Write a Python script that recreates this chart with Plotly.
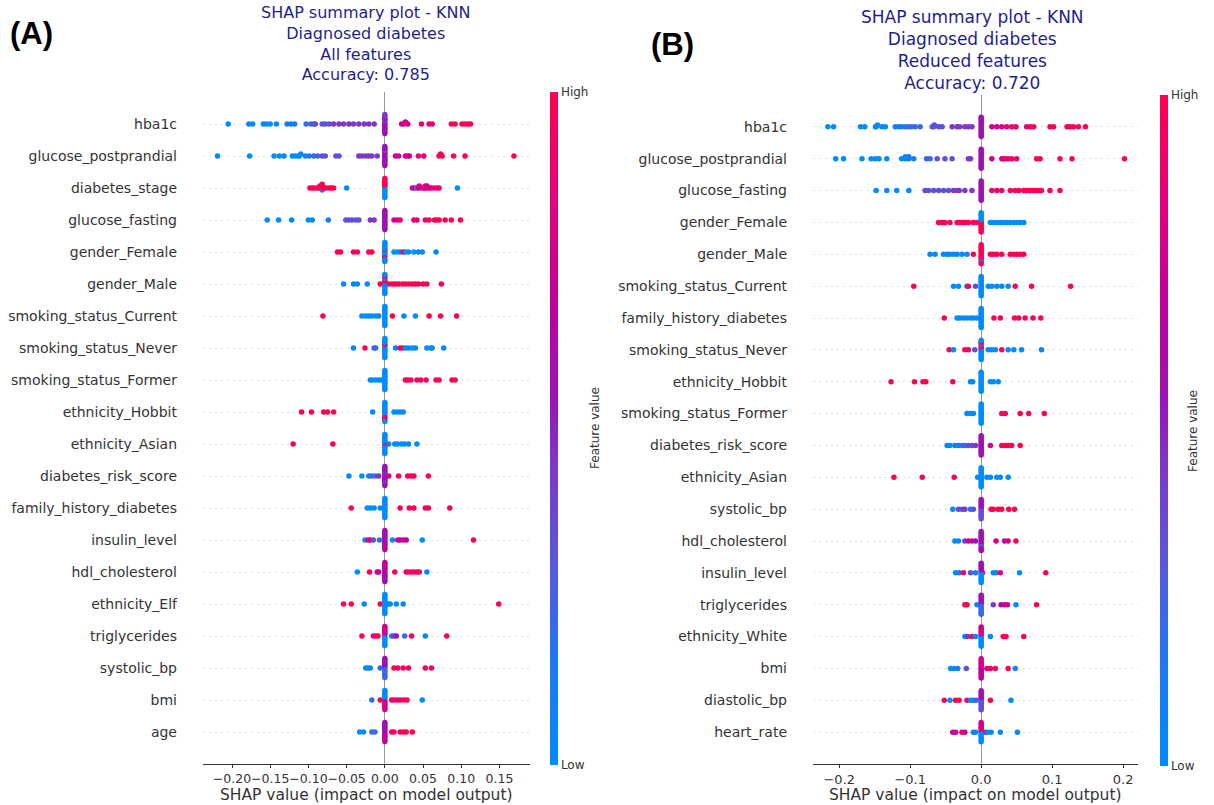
import numpy as np
import plotly.graph_objects as go

# ---------------- Panel A: all features ----------------
features_a = [
    "hba1c", "glucose_postprandial", "diabetes_stage", "glucose_fasting",
    "gender_Female", "gender_Male", "smoking_status_Current", "smoking_status_Never",
    "smoking_status_Former", "ethnicity_Hobbit", "ethnicity_Asian", "diabetes_risk_score",
    "family_history_diabetes", "insulin_level", "hdl_cholesterol", "ethnicity_Elf",
    "triglycerides", "systolic_bp", "bmi", "age",
]

# SHAP values of the non-zero samples, one list per feature
shap_a = [
    [-0.205, -0.178, -0.173, -0.159, -0.155, -0.150, -0.142, -0.128, -0.123, -0.118,
     -0.103, -0.097, -0.093, -0.091, -0.082, -0.078, -0.073, -0.067, -0.060, -0.054,
     -0.047, -0.041, -0.034, -0.027, -0.021, -0.014,
     0.022, 0.025, 0.027, 0.030, 0.048, 0.058, 0.062, 0.087, 0.092, 0.101, 0.105, 0.109, 0.112],
    [-0.219, -0.177, -0.145, -0.138, -0.132, -0.121, -0.117, -0.113, -0.112, -0.110,
     -0.104, -0.099, -0.093, -0.088, -0.082, -0.078, -0.064, -0.060, -0.034, -0.030,
     -0.025, -0.021, -0.017, -0.010,
     0.014, 0.018, 0.027, 0.030, 0.032, 0.044, 0.051, 0.071, 0.073, 0.075, 0.090, 0.105, 0.169],
    [-0.098, -0.095, -0.092, -0.088, -0.086, -0.085, -0.085, -0.083, -0.083, -0.082,
     -0.082, -0.081, -0.079, -0.077, -0.073, -0.070, -0.067, -0.050,
     0.036, 0.039, 0.042, 0.044, 0.045, 0.048, 0.051, 0.053, 0.053, 0.055, 0.055, 0.058,
     0.060, 0.064, 0.068, 0.071, 0.095],
    [-0.154, -0.139, -0.122, -0.100, -0.095, -0.074, -0.051, -0.047, -0.043, -0.038,
     -0.034, -0.019, -0.014,
     0.012, 0.016, 0.020, 0.038, 0.042, 0.053, 0.058, 0.065, 0.068, 0.071, 0.079, 0.087, 0.099],
    [-0.062, -0.058, -0.041, -0.036, -0.021, -0.017,
     0.012, 0.016, 0.020, 0.024, 0.027, 0.031, 0.038, 0.044, 0.049, 0.067],
    [-0.054, -0.041, -0.036, -0.023, -0.006,
     0.005, 0.010, 0.014, 0.018, 0.023, 0.027, 0.031, 0.036, 0.040, 0.044, 0.050, 0.055, 0.074],
    [-0.081, -0.030, -0.025, -0.021, -0.017, -0.012, -0.008,
     0.010, 0.025, 0.040, 0.058, 0.073, 0.094],
    [-0.041, -0.026, -0.014, -0.012,
     0.014, 0.020, 0.023, 0.027, 0.031, 0.036, 0.040, 0.055, 0.060, 0.062, 0.077],
    [-0.019, -0.016, -0.012, -0.008, -0.004,
     0.027, 0.030, 0.034, 0.042, 0.047, 0.054, 0.067, 0.071, 0.088, 0.092],
    [-0.109, -0.096, -0.080, -0.075, -0.067, -0.016, 0.012, 0.016, 0.020, 0.024],
    [-0.120, -0.068, 0.005, 0.013, 0.017, 0.022, 0.026, 0.031, 0.042],
    [-0.047, -0.030, -0.021, -0.017, -0.012, -0.008, 0.005, 0.018, 0.030, 0.034, 0.038, 0.057],
    [-0.044, -0.023, -0.019, -0.014, -0.006, 0.020, 0.032, 0.038, 0.053, 0.057, 0.085],
    [-0.026, -0.022, -0.019, -0.015, -0.007, 0.010, 0.017, 0.020, 0.024, 0.028, 0.049, 0.116],
    [-0.036, -0.020, -0.010, -0.008, 0.013, 0.028, 0.031, 0.035, 0.038, 0.042, 0.045, 0.055],
    [-0.054, -0.044, -0.027, -0.006, 0.005, 0.007, 0.015, 0.024, 0.149],
    [-0.030, -0.015, -0.012, -0.009, 0.009, 0.012, 0.015, 0.026, 0.035, 0.053, 0.081],
    [-0.025, -0.022, -0.019, -0.006, 0.012, 0.017, 0.024, 0.031, 0.053, 0.061],
    [-0.017, -0.006, 0.009, 0.012, 0.016, 0.020, 0.025, 0.029, 0.049],
    [-0.033, -0.028, -0.017, -0.013, 0.009, 0.012, 0.020, 0.024, 0.028, 0.036],
]

# Feature value of each sample, 0 (low) .. 9 (high), one character per point
color_a = [
    "00000001112233333444444444" + "7777888999999",
    "000000000011223333444444" + "7777788999999",
    "999999999099999990" + "77068786887878880",
    "0000013333344" + "7788889999999",
    "999999" + "0009000000",
    "00009" + "9999999999999",
    "9000000" + "900999",
    "0932" + "09900000000",
    "00000" + "9999999999",
    "999990" + "0000",
    "99" + "0000000",
    "001224" + "899999",
    "90000" + "999999",
    "08732" + "0767609",
    "0976" + "98989880",
    "9909" + "00009",
    "9879" + "0452909",
    "0002" + "999999",
    "29" + "8979890",
    "0022" + "989999",
]

# Feature values of the samples whose SHAP value is exactly zero
zero_a = [
    "45545554545", "55555455555", "09090909090", "55555555555", "09000090000",
    "09090009000", "00000000000", "00090000000", "00000000000", "90000090900",
    "00900000000", "55545555455", "00000000000", "65565565656", "66565656565",
    "00000000000", "07070707070", "25252525252", "70707070707", "65656565656",
]

# ---------------- Panel B: reduced features ----------------
features_b = [
    "hba1c", "glucose_postprandial", "glucose_fasting", "gender_Female", "gender_Male",
    "smoking_status_Current", "family_history_diabetes", "smoking_status_Never",
    "ethnicity_Hobbit", "smoking_status_Former", "diabetes_risk_score", "ethnicity_Asian",
    "systolic_bp", "hdl_cholesterol", "insulin_level", "triglycerides", "ethnicity_White",
    "bmi", "diastolic_bp", "heart_rate",
]

shap_b = [
    [-0.216, -0.208, -0.170, -0.164, -0.149, -0.148, -0.146, -0.140, -0.135, -0.121,
     -0.116, -0.112, -0.107, -0.102, -0.098, -0.093, -0.086, -0.069, -0.067, -0.066,
     -0.060, -0.055, -0.041, -0.034, -0.030, -0.023, -0.018, -0.013,
     0.015, 0.022, 0.029, 0.036, 0.043, 0.049, 0.064, 0.069, 0.074, 0.097, 0.102,
     0.121, 0.125, 0.130, 0.137, 0.147],
    [-0.205, -0.194, -0.168, -0.155, -0.149, -0.144, -0.133, -0.112, -0.107, -0.107,
     -0.102, -0.102, -0.095, -0.077, -0.072, -0.062, -0.051, -0.041, -0.018, -0.015,
     0.015, 0.029, 0.031, 0.034, 0.038, 0.043, 0.050, 0.078, 0.083, 0.111, 0.128, 0.202],
    [-0.148, -0.133, -0.119, -0.102, -0.079, -0.074, -0.067, -0.060, -0.053, -0.046,
     -0.039, -0.034, -0.031, -0.023, -0.013,
     0.015, 0.022, 0.029, 0.041, 0.048, 0.053, 0.060, 0.064, 0.069, 0.074, 0.078,
     0.083, 0.085, 0.097, 0.111],
    [-0.060, -0.055, -0.051, -0.044, -0.034, -0.031, -0.027, -0.023, -0.018, -0.011, -0.006,
     0.013, 0.017, 0.022, 0.027, 0.031, 0.036, 0.041, 0.046, 0.050, 0.055, 0.060],
    [-0.072, -0.065, -0.053, -0.048, -0.044, -0.039, -0.034, -0.027, -0.020, -0.011,
     0.013, 0.017, 0.022, 0.029, 0.041, 0.046, 0.050, 0.055, 0.060],
    [-0.095, -0.039, -0.032, -0.020, -0.018, -0.008,
     0.010, 0.015, 0.022, 0.029, 0.038, 0.048, 0.071, 0.126],
    [-0.052, -0.034, -0.030, -0.025, -0.020, -0.015, -0.011, -0.006,
     0.018, 0.027, 0.047, 0.053, 0.062, 0.073, 0.084],
    [-0.045, -0.039, -0.023, -0.018, -0.009,
     0.010, 0.015, 0.020, 0.029, 0.038, 0.046, 0.057, 0.085],
    [-0.127, -0.094, -0.082, -0.078, -0.040, -0.015, -0.012, 0.013, 0.017, 0.024],
    [-0.020, -0.015, -0.011, 0.029, 0.034, 0.055, 0.067, 0.089],
    [-0.048, -0.044, -0.037, -0.032, -0.027, -0.023, -0.018, -0.013, -0.008,
     0.013, 0.029, 0.034, 0.038, 0.043, 0.055],
    [-0.123, -0.083, -0.038, -0.005, 0.008, 0.013, 0.022, 0.027, 0.038],
    [-0.040, -0.032, -0.027, -0.023, -0.015, -0.011, 0.014, 0.017, 0.024, 0.029, 0.039, 0.047],
    [-0.037, -0.032, -0.023, -0.018, -0.013, -0.008, 0.021, 0.033, 0.038, 0.049],
    [-0.036, -0.031, -0.025, -0.015, -0.008, 0.002, 0.017, 0.021, 0.027, 0.054, 0.091],
    [-0.023, -0.020, -0.006, 0.017, 0.028, 0.033, 0.037, 0.049, 0.078],
    [-0.023, -0.019, -0.013, -0.008, 0.013, 0.031, 0.035, 0.060],
    [-0.043, -0.038, -0.033, -0.021, 0.008, 0.013, 0.020, 0.038, 0.048],
    [-0.052, -0.044, -0.036, -0.031, -0.020, -0.015, -0.011, -0.007, 0.013, 0.042],
    [-0.040, -0.036, -0.027, -0.023, -0.011, -0.008, 0.006, 0.009, 0.014, 0.027, 0.051],
]

color_b = [
    "0000000001111222233333444444" + "7778888899999999",
    "00000000001112233344" + "787888899999",
    "000033333344444" + "888999999999999",
    "99999999999" + "00000000000",
    "0000000009" + "999999999",
    "900093" + "00000999",
    "90000000" + "9999999",
    "90983" + "00090000",
    "9999900" + "000",
    "000" + "99999",
    "001122334" + "799999",
    "9990" + "00000",
    "033413" + "999999",
    "004675" + "7679",
    "01831" + "900809",
    "990" + "466709",
    "0490" + "0999",
    "0013" + "88990",
    "90998002" + "90",
    "678701" + "90000",
]

zero_b = [
    "55555555555", "55555555555", "55555555555", "90909090909", "99999999099",
    "00000000000", "00000000000", "09090009000", "00000000000", "00000000000",
    "55555555555", "00000000000", "35353535353", "25656525656", "05050505050",
    "25252525252", "07070707070", "67676767676", "35353535353", "07070707070",
]

# Red-blue colour map used for the feature value
red_blue = [
    [0.00, "#008bfb"], [0.15, "#1e78f2"], [0.30, "#5858dc"], [0.45, "#7e36c8"],
    [0.55, "#9c12b4"], [0.70, "#c2009a"], [0.85, "#e6007a"], [1.00, "#ff0052"],
]

FONT = "DejaVu Sans"
W, H = 1214, 805


def swarm_offsets(vals, nbins=100, row_height=0.4):
    """Beeswarm offsets: points that fall in the same bin are stacked around the row."""
    v = np.asarray(vals, dtype=float)
    quant = np.round(nbins * (v - v.min()) / (v.max() - v.min() + 1e-8))
    order = np.argsort(quant, kind="stable")
    ys = np.zeros(len(v))
    layer, last = 0, None
    for i in order:
        if quant[i] != last:
            layer = 0
        ys[i] = np.ceil(layer / 2) * ((layer % 2) * 2 - 1)
        layer += 1
        last = quant[i]
    ys *= 0.9 * (row_height / np.max(ys + 1))
    return ys


def build_points(features, shaps, colors, zeros):
    xs, ys, cs = [], [], []
    n = len(features)
    for i, (vals, col, zc) in enumerate(zip(shaps, colors, zeros)):
        assert len(vals) == len(col), features[i]
        v = np.array(list(vals) + [0.0] * len(zc))
        c = [int(ch) / 9 for ch in col + zc]
        off = swarm_offsets(v)
        row = n - 1 - i
        xs.extend(v.tolist())
        ys.extend((row + off).tolist())
        cs.extend(c)
    return xs, ys, cs


def px_x(p):
    return p / W


def px_y(p):
    return 1 - p / H


fig = go.Figure()

xa, ya, ca = build_points(features_a, shap_a, color_a, zero_a)
xb, yb, cb = build_points(features_b, shap_b, color_b, zero_b)

fig.add_trace(go.Scatter(
    x=xa, y=ya, mode="markers", xaxis="x", yaxis="y", hoverinfo="x",
    marker=dict(size=5.5, color=ca, coloraxis="coloraxis", line=dict(width=0)),
    showlegend=False,
))
fig.add_trace(go.Scatter(
    x=xb, y=yb, mode="markers", xaxis="x2", yaxis="y2", hoverinfo="x",
    marker=dict(size=5.5, color=cb, coloraxis="coloraxis2", line=dict(width=0)),
    showlegend=False,
))


def colorbar(x_left, top, bottom):
    return dict(
        x=px_x(x_left), xanchor="left", xpad=0, ypad=0,
        y=px_y((top + bottom) / 2), yanchor="middle",
        len=(bottom - top) / H, lenmode="fraction",
        thickness=8, outlinewidth=0,
        tickvals=[0, 1], ticktext=["Low", "High"], ticks="",
        tickfont=dict(family=FONT, size=12, color="#333333"),
    )


def x_axis(domain, rng, tickvals, fmt, size, anchor):
    return dict(
        domain=domain, range=rng, anchor=anchor, automargin=False,
        tickvals=tickvals, tickformat=fmt, tickangle=0,
        showline=True, linecolor="#333333", linewidth=1,
        ticks="outside", ticklen=3, tickcolor="#333333",
        tickfont=dict(family=FONT, size=size, color="#333333"),
        showgrid=False,
        zeroline=True, zerolinecolor="#999999", zerolinewidth=1,
    )


def y_axis(domain, features, size, anchor):
    n = len(features)
    return dict(
        domain=domain, range=[-1, n], anchor=anchor, automargin=False,
        tickvals=list(range(n)), ticktext=features[::-1],
        tickfont=dict(family=FONT, size=size, color="#333333"),
        ticks="", ticklabelstandoff=25,
        showline=False, zeroline=False,
        showgrid=True, gridcolor="#dcdcdc", gridwidth=1, griddash="2px,4px",
    )


fig.update_layout(
    width=W, height=H,
    margin=dict(l=0, r=0, t=0, b=0, autoexpand=False),
    paper_bgcolor="white", plot_bgcolor="white",
    xaxis=x_axis([px_x(203), px_x(530)], [-0.238, 0.19],
                 [-0.20, -0.15, -0.10, -0.05, 0.0, 0.05, 0.10, 0.15], ".2f", 12.5, "y"),
    yaxis=y_axis([px_y(764), px_y(92)], features_a, 14, "x"),
    xaxis2=x_axis([px_x(813), px_x(1138)], [-0.237, 0.221],
                  [-0.2, -0.1, 0.0, 0.1, 0.2], ".1f", 13, "y2"),
    yaxis2=y_axis([px_y(764), px_y(95)], features_b, 14, "x2"),
    coloraxis=dict(colorscale=red_blue, cmin=0, cmax=1, colorbar=colorbar(550, 92, 765)),
    coloraxis2=dict(colorscale=red_blue, cmin=0, cmax=1, colorbar=colorbar(1160, 95, 766)),
)

title_color = "#1f1f8a"
axis_title = "SHAP value (impact on model output)"
annotations = [
    dict(text="SHAP summary plot - KNN<br>Diagnosed diabetes<br>All features<br>Accuracy: 0.785",
         x=px_x(366), y=px_y(44), xanchor="center", yanchor="middle",
         font=dict(family=FONT, size=16, color=title_color)),
    dict(text="SHAP summary plot - KNN<br>Diagnosed diabetes<br>Reduced features<br>Accuracy: 0.720",
         x=px_x(972), y=px_y(50), xanchor="center", yanchor="middle",
         font=dict(family=FONT, size=17, color=title_color)),
    dict(text="<b>(A)</b>", x=px_x(8), y=px_y(33), xanchor="left", yanchor="middle",
         font=dict(family="Liberation Sans", size=31, color="black")),
    dict(text="<b>(B)</b>", x=px_x(649), y=px_y(45), xanchor="left", yanchor="middle",
         font=dict(family="Liberation Sans", size=31, color="black")),
    dict(text=axis_title, x=px_x(366), y=px_y(795), xanchor="center", yanchor="middle",
         font=dict(family=FONT, size=15.5, color="#333333")),
    dict(text=axis_title, x=px_x(975), y=px_y(795), xanchor="center", yanchor="middle",
         font=dict(family=FONT, size=15.5, color="#333333")),
    dict(text="Feature value", textangle=-90, x=px_x(595), y=px_y(428),
         xanchor="center", yanchor="middle",
         font=dict(family=FONT, size=12, color="#333333")),
    dict(text="Feature value", textangle=-90, x=px_x(1193), y=px_y(431),
         xanchor="center", yanchor="middle",
         font=dict(family=FONT, size=12, color="#333333")),
]
for a in annotations:
    a.update(xref="paper", yref="paper", showarrow=False)
fig.update_layout(annotations=annotations)

fig.write_html("out.html")
